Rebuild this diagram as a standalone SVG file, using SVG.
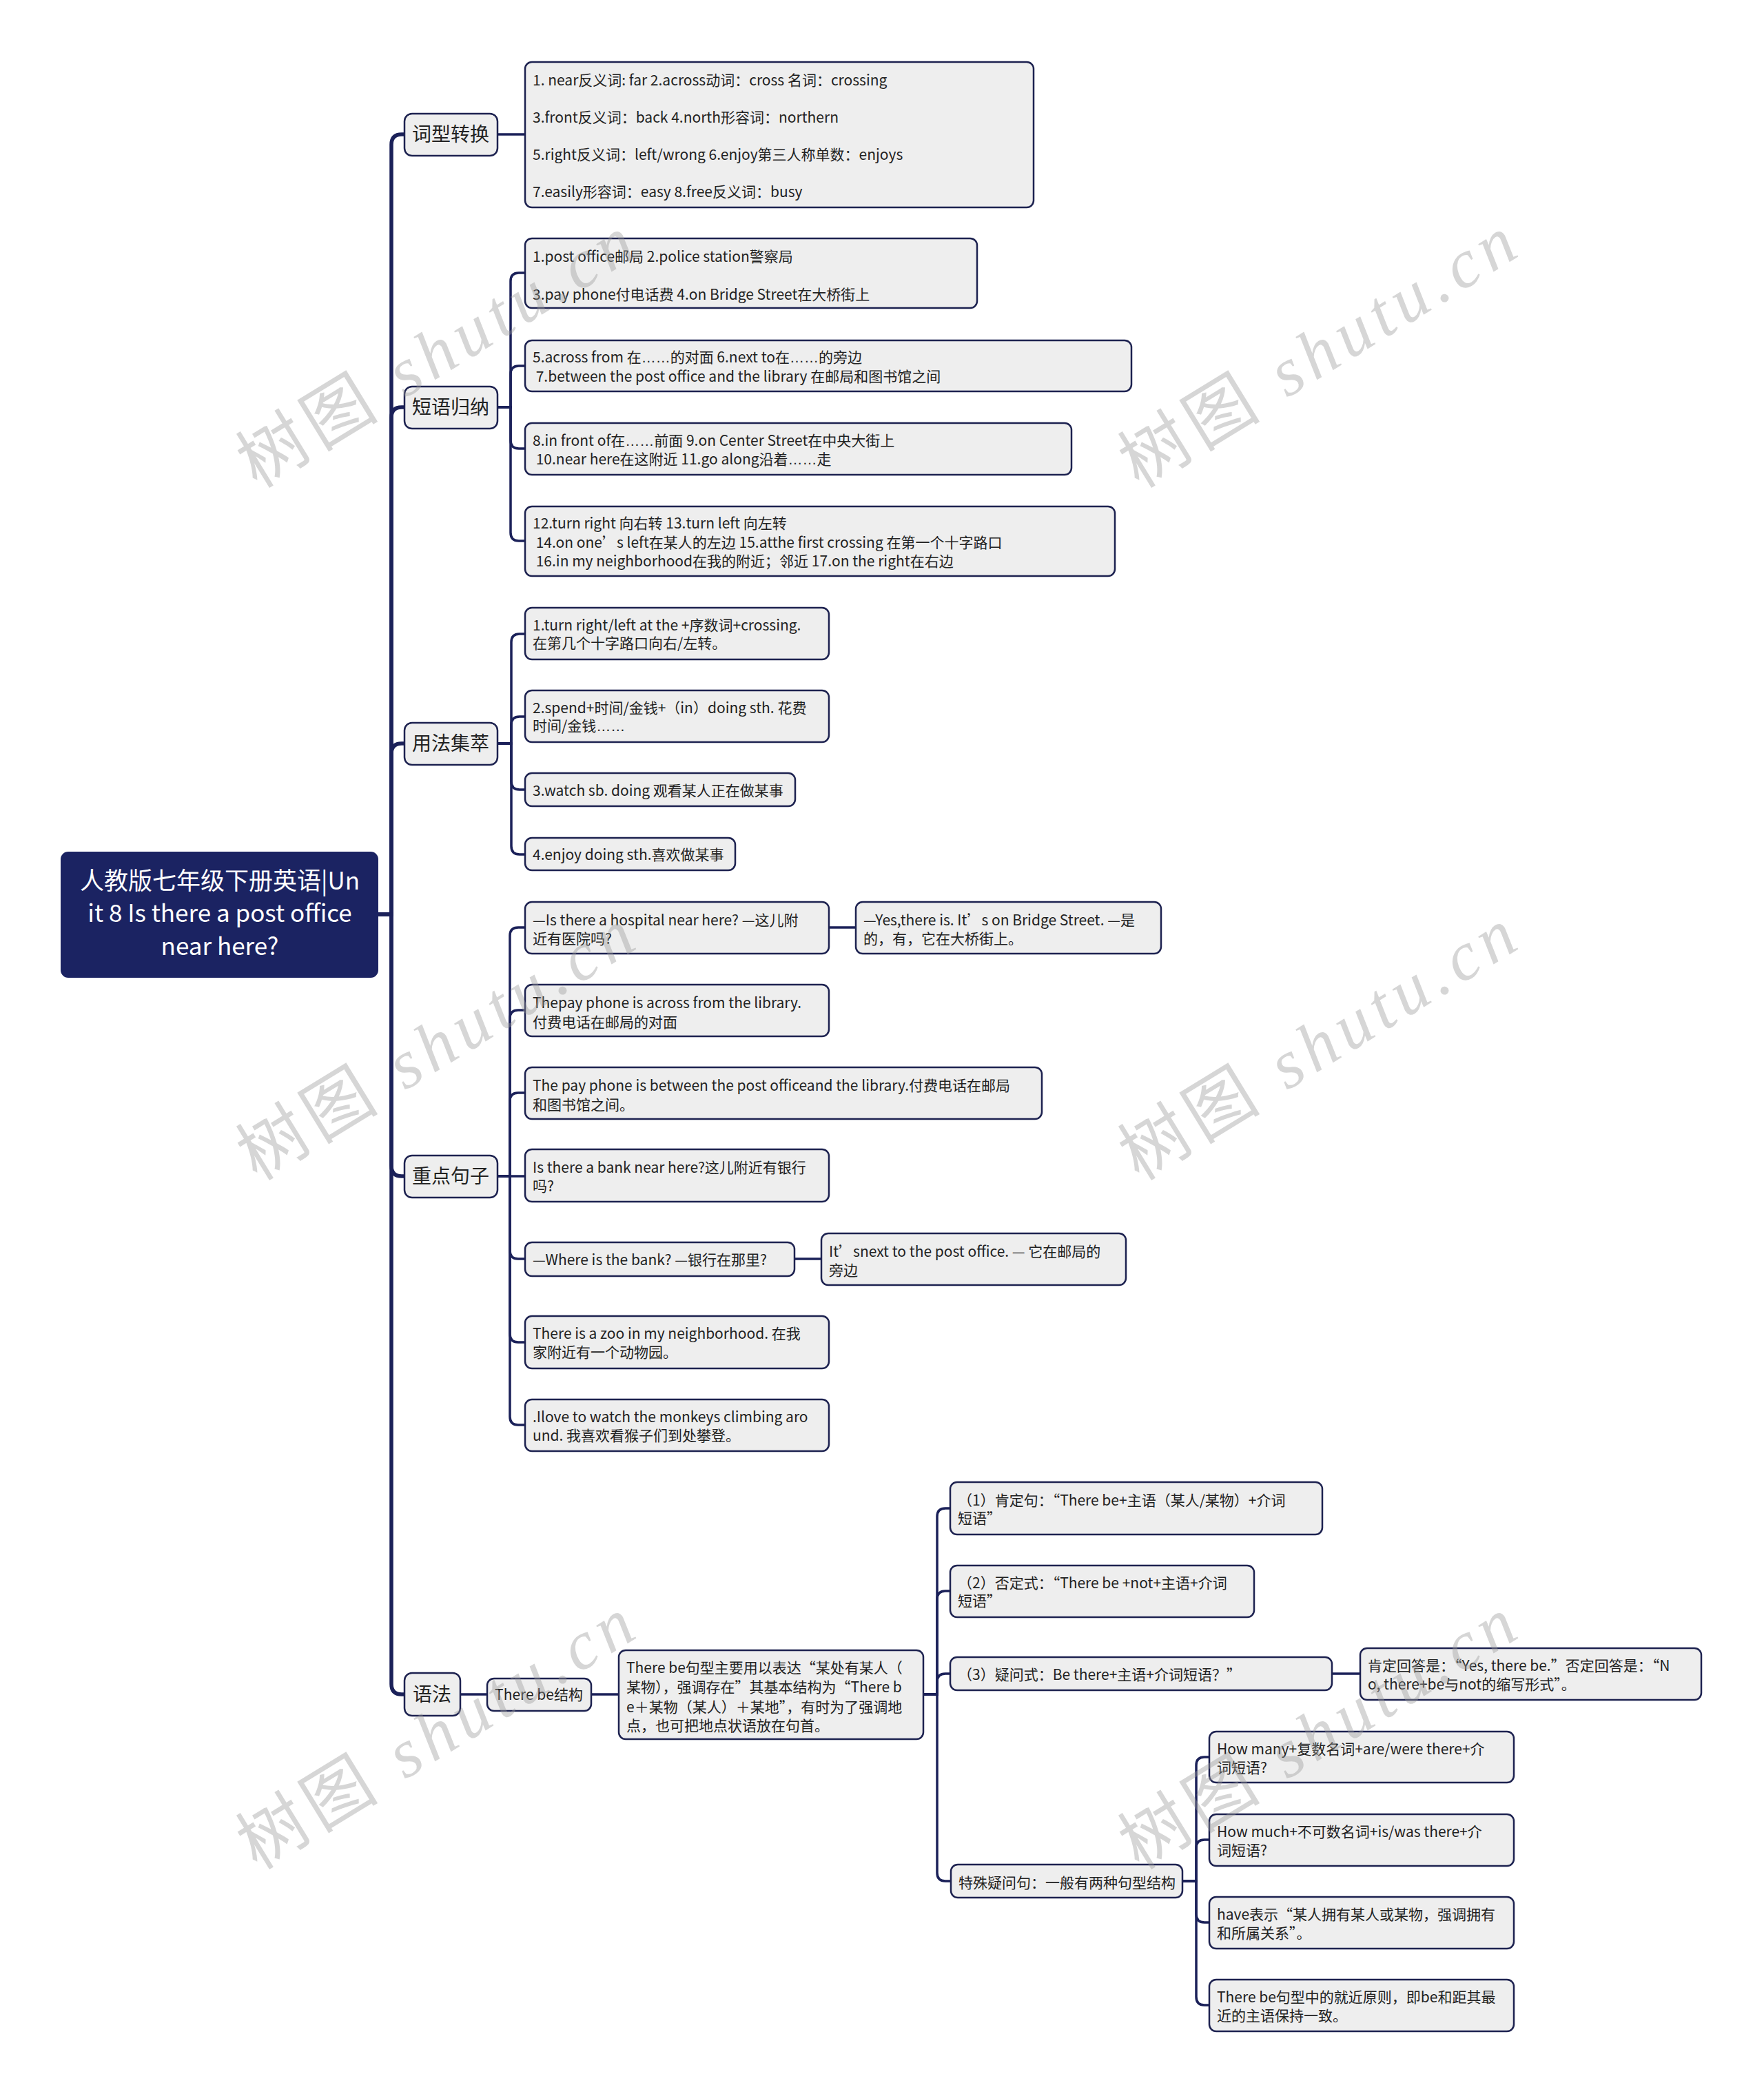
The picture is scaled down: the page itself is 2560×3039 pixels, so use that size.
<svg xmlns="http://www.w3.org/2000/svg" width="2560" height="3039" viewBox="0 0 2560 3039">
<style>
.bg{fill:#ffffff}
.n{fill:#eeeeee;stroke:#1d2250;stroke-width:2.5}
.r{fill:#1b2362;stroke:#1b2362;stroke-width:2}
.t{font-family:"Noto Sans CJK SC","Noto Sans",sans-serif;font-size:21px;fill:#222222}
.l1{font-size:28px}
.rt{font-family:"Noto Sans CJK SC","Noto Sans",sans-serif;font-size:35px;fill:#ffffff;text-anchor:middle}
.m{text-anchor:middle}
.e{font-family:"Liberation Sans",sans-serif}
.c{fill:none;stroke:#1b2159;stroke-width:3.5}
.k{fill:none;stroke:#1b2159;stroke-width:5.5}
.wm{font-family:"Liberation Serif","Noto Sans CJK SC",serif;font-size:100px;fill:#9a9a9a;opacity:0.4;text-anchor:middle}
</style>
<rect class="bg" x="0" y="0" width="2560" height="3039"/>
<g id="connectors">
<path class="k" d="M548 1327 H568 V210 Q568 195 583 195 H587"/>
<path class="k" d="M548 1327 H568 V606 Q568 591 583 591 H587"/>
<path class="k" d="M548 1327 H568 V1094 Q568 1079 583 1079 H587"/>
<path class="k" d="M548 1327 H568 V1692 Q568 1707 583 1707 H587"/>
<path class="k" d="M548 1327 H568 V2444 Q568 2459 583 2459 H587"/>
<path class="c" d="M722 195 H762"/>
<path class="c" d="M722 591 H741 V408 Q741 396 753 396 H762"/>
<path class="c" d="M722 591 H741 V543 Q741 531 753 531 H762"/>
<path class="c" d="M722 591 H741 V639 Q741 651 753 651 H762"/>
<path class="c" d="M722 591 H741 V773 Q741 785 753 785 H762"/>
<path class="c" d="M722 1079 H742 V932 Q742 920 754 920 H762"/>
<path class="c" d="M722 1079 H742 V1052 Q742 1040 754 1040 H762"/>
<path class="c" d="M722 1079 H742 V1134 Q742 1146 754 1146 H762"/>
<path class="c" d="M722 1079 H742 V1228 Q742 1240 754 1240 H762"/>
<path class="c" d="M722 1707 H740 V1358 Q740 1346 752 1346 H762"/>
<path class="c" d="M722 1707 H740 V1478 Q740 1466 752 1466 H762"/>
<path class="c" d="M722 1707 H740 V1598 Q740 1586 752 1586 H762"/>
<path class="c" d="M722 1707 H762"/>
<path class="c" d="M722 1707 H740 V1815 Q740 1827 752 1827 H762"/>
<path class="c" d="M722 1707 H740 V1936 Q740 1948 752 1948 H762"/>
<path class="c" d="M722 1707 H740 V2056 Q740 2068 752 2068 H762"/>
<path class="c" d="M1203 1346 H1242"/>
<path class="c" d="M1153 1827 H1192"/>
<path class="c" d="M668 2459 H707"/>
<path class="c" d="M858 2459 H898"/>
<path class="c" d="M1340 2459 H1360 V2201 Q1360 2189 1372 2189 H1379"/>
<path class="c" d="M1340 2459 H1360 V2321 Q1360 2309 1372 2309 H1379"/>
<path class="c" d="M1340 2459 H1360 V2441 Q1360 2429 1372 2429 H1379"/>
<path class="c" d="M1340 2459 H1360 V2718 Q1360 2730 1372 2730 H1380"/>
<path class="c" d="M1933 2429 H1974"/>
<path class="c" d="M1716 2730 H1736 V2562 Q1736 2550 1748 2550 H1755"/>
<path class="c" d="M1716 2730 H1736 V2682 Q1736 2670 1748 2670 H1755"/>
<path class="c" d="M1716 2730 H1736 V2778 Q1736 2790 1748 2790 H1755"/>
<path class="c" d="M1716 2730 H1736 V2898 Q1736 2910 1748 2910 H1755"/>
</g>
<g id="root">
<rect class="r" x="89" y="1237" width="459" height="181" rx="10"/>
<text class="rt" x="319" y="1291">人教版七年级下册英语|Un</text>
<text class="rt" x="319" y="1338">it 8 Is there a post office</text>
<text class="rt" x="319" y="1386">near here?</text>
</g>
<g id="k1"><rect class="n" x="587" y="165" width="135" height="61" rx="11"/><text class="t l1 m" x="654" y="205">词型转换</text></g>
<g id="k2"><rect class="n" x="587" y="561" width="135" height="61" rx="11"/><text class="t l1 m" x="654" y="601">短语归纳</text></g>
<g id="k3"><rect class="n" x="587" y="1049" width="135" height="61" rx="11"/><text class="t l1 m" x="654" y="1089">用法集萃</text></g>
<g id="k4"><rect class="n" x="587" y="1677" width="135" height="61" rx="11"/><text class="t l1 m" x="654" y="1717">重点句子</text></g>
<g id="k5"><rect class="n" x="587" y="2428" width="81" height="62" rx="11"/><text class="t l1 m" x="627" y="2469">语法</text></g>
<g id="a1"><rect class="n" x="762" y="90" width="738" height="211" rx="10"/>
<text class="t" x="773" y="124">1. near反义词: far 2.across动词：cross 名词：crossing</text>
<text class="t" x="773" y="178">3.front反义词：back 4.north形容词：northern</text>
<text class="t" x="773" y="232">5.right反义词：left/wrong 6.enjoy第三人称单数：enjoys</text>
<text class="t" x="773" y="286">7.easily形容词：easy 8.free反义词：busy</text></g>
<g id="b1"><rect class="n" x="762" y="346" width="656" height="101" rx="10"/>
<text class="t" x="773" y="380">1.post office邮局 2.police station警察局</text>
<text class="t" x="773" y="435">3.pay phone付电话费 4.on Bridge Street在大桥街上</text></g>
<g id="b2"><rect class="n" x="762" y="494" width="880" height="74" rx="10"/>
<text class="t" x="773" y="526">5.across from 在<tspan class="e">……</tspan>的对面 6.next to在<tspan class="e">……</tspan>的旁边</text>
<text class="t" x="773" y="554" xml:space="preserve"> 7.between the post office and the library 在邮局和图书馆之间</text></g>
<g id="b3"><rect class="n" x="762" y="614" width="793" height="75" rx="10"/>
<text class="t" x="773" y="647">8.in front of在<tspan class="e">……</tspan>前面 9.on Center Street在中央大街上</text>
<text class="t" x="773" y="674" xml:space="preserve"> 10.near here在这附近 11.go along沿着<tspan class="e">……</tspan>走</text></g>
<g id="b4"><rect class="n" x="762" y="735" width="856" height="101" rx="10"/>
<text class="t" x="773" y="767">12.turn right 向右转 13.turn left 向左转</text>
<text class="t" x="773" y="795" xml:space="preserve"> 14.on one’s left在某人的左边 15.atthe first crossing 在第一个十字路口</text>
<text class="t" x="773" y="822" xml:space="preserve"> 16.in my neighborhood在我的附近；邻近 17.on the right在右边</text></g>
<g id="c1"><rect class="n" x="762" y="882" width="441" height="75" rx="10"/>
<text class="t" x="773" y="915">1.turn right/left at the +序数词+crossing.</text>
<text class="t" x="773" y="941">在第几个十字路口向右/左转。</text></g>
<g id="c2"><rect class="n" x="762" y="1002" width="441" height="75" rx="10"/>
<text class="t" x="773" y="1035">2.spend+时间/金钱+（in）doing sth. 花费</text>
<text class="t" x="773" y="1061">时间/金钱<tspan class="e">……</tspan></text></g>
<g id="c3"><rect class="n" x="762" y="1122" width="392" height="48" rx="10"/>
<text class="t" x="773" y="1155">3.watch sb. doing 观看某人正在做某事</text></g>
<g id="c4"><rect class="n" x="762" y="1216" width="305" height="47" rx="10"/>
<text class="t" x="773" y="1248">4.enjoy doing sth.喜欢做某事</text></g>
<g id="d1"><rect class="n" x="762" y="1309" width="441" height="75" rx="10"/>
<text class="t" x="773" y="1343">—Is there a hospital near here? —这儿附</text>
<text class="t" x="773" y="1370">近有医院吗?</text></g>
<g id="d1b"><rect class="n" x="1242" y="1309" width="443" height="75" rx="10"/>
<text class="t" x="1253" y="1343">—Yes,there is. It’s on Bridge Street. —是</text>
<text class="t" x="1253" y="1370">的，有，它在大桥街上。</text></g>
<g id="d2"><rect class="n" x="762" y="1429" width="441" height="75" rx="10"/>
<text class="t" x="773" y="1463">Thepay phone is across from the library.</text>
<text class="t" x="773" y="1491">付费电话在邮局的对面</text></g>
<g id="d3"><rect class="n" x="762" y="1549" width="750" height="75" rx="10"/>
<text class="t" x="773" y="1583">The pay phone is between the post officeand the library.付费电话在邮局</text>
<text class="t" x="773" y="1611">和图书馆之间。</text></g>
<g id="d4"><rect class="n" x="762" y="1668" width="441" height="76" rx="10"/>
<text class="t" x="773" y="1702">Is there a bank near here?这儿附近有银行</text>
<text class="t" x="773" y="1729">吗?</text></g>
<g id="d5"><rect class="n" x="762" y="1803" width="391" height="49" rx="10"/>
<text class="t" x="773" y="1836">—Where is the bank? —银行在那里?</text></g>
<g id="d5b"><rect class="n" x="1192" y="1790" width="442" height="75" rx="10"/>
<text class="t" x="1203" y="1824">It’snext to the post office. — 它在邮局的</text>
<text class="t" x="1203" y="1851">旁边</text></g>
<g id="d6"><rect class="n" x="762" y="1910" width="441" height="76" rx="10"/>
<text class="t" x="773" y="1943">There is a zoo in my neighborhood. 在我</text>
<text class="t" x="773" y="1970">家附近有一个动物园。</text></g>
<g id="d7"><rect class="n" x="762" y="2031" width="441" height="75" rx="10"/>
<text class="t" x="773" y="2064">.Ilove to watch the monkeys climbing aro</text>
<text class="t" x="773" y="2091">und. 我喜欢看猴子们到处攀登。</text></g>
<g id="e1"><rect class="n" x="707" y="2436" width="151" height="47" rx="10"/>
<text class="t m" x="782" y="2467">There be结构</text></g>
<g id="e2"><rect class="n" x="898" y="2395" width="442" height="129" rx="10"/>
<text class="t" x="909" y="2428">There be句型主要用以表达“某处有某人（</text>
<text class="t" x="909" y="2456">某物），强调存在”其基本结构为“There b</text>
<text class="t" x="909" y="2485">e＋某物（某人）＋某地”，有时为了强调地</text>
<text class="t" x="909" y="2512">点，也可把地点状语放在句首。</text></g>
<g id="f1"><rect class="n" x="1379" y="2151" width="540" height="76" rx="10"/>
<text class="t" x="1390" y="2185">（1）肯定句：“There be+主语（某人/某物）+介词</text>
<text class="t" x="1390" y="2211">短语”</text></g>
<g id="f2"><rect class="n" x="1379" y="2272" width="441" height="75" rx="10"/>
<text class="t" x="1390" y="2305">（2）否定式：“There be +not+主语+介词</text>
<text class="t" x="1390" y="2331">短语”</text></g>
<g id="f3"><rect class="n" x="1379" y="2405" width="554" height="48" rx="10"/>
<text class="t" x="1390" y="2438">（3）疑问式：Be there+主语+介词短语？”</text></g>
<g id="f3b"><rect class="n" x="1974" y="2392" width="495" height="75" rx="10"/>
<text class="t" x="1985" y="2425">肯定回答是：“Yes, there be.”否定回答是：“N</text>
<text class="t" x="1985" y="2452">o, there+be与not的缩写形式”。</text></g>
<g id="f4"><rect class="n" x="1380" y="2706" width="336" height="48" rx="10"/>
<text class="t" x="1391" y="2740">特殊疑问句：一般有两种句型结构</text></g>
<g id="g1"><rect class="n" x="1755" y="2513" width="442" height="74" rx="10"/>
<text class="t" x="1766" y="2546">How many+复数名词+are/were there+介</text>
<text class="t" x="1766" y="2573">词短语?</text></g>
<g id="g2"><rect class="n" x="1755" y="2633" width="442" height="75" rx="10"/>
<text class="t" x="1766" y="2666">How much+不可数名词+is/was there+介</text>
<text class="t" x="1766" y="2693">词短语?</text></g>
<g id="g3"><rect class="n" x="1755" y="2753" width="442" height="75" rx="10"/>
<text class="t" x="1766" y="2786">have表示“某人拥有某人或某物，强调拥有</text>
<text class="t" x="1766" y="2813">和所属关系”。</text></g>
<g id="g4"><rect class="n" x="1755" y="2873" width="442" height="75" rx="10"/>
<text class="t" x="1766" y="2906">There be句型中的就近原则，即be和距其最</text>
<text class="t" x="1766" y="2933">近的主语保持一致。</text></g>
<g id="watermarks">
<text class="wm" transform="translate(650 540) rotate(-31.5)" textLength="650" lengthAdjust="spacing">树图 <tspan font-style="italic">shutu.cn</tspan></text>
<text class="wm" transform="translate(1930 540) rotate(-31.5)" textLength="650" lengthAdjust="spacing">树图 <tspan font-style="italic">shutu.cn</tspan></text>
<text class="wm" transform="translate(650 1545) rotate(-31.5)" textLength="650" lengthAdjust="spacing">树图 <tspan font-style="italic">shutu.cn</tspan></text>
<text class="wm" transform="translate(1930 1545) rotate(-31.5)" textLength="650" lengthAdjust="spacing">树图 <tspan font-style="italic">shutu.cn</tspan></text>
<text class="wm" transform="translate(650 2545) rotate(-31.5)" textLength="650" lengthAdjust="spacing">树图 <tspan font-style="italic">shutu.cn</tspan></text>
<text class="wm" transform="translate(1930 2545) rotate(-31.5)" textLength="650" lengthAdjust="spacing">树图 <tspan font-style="italic">shutu.cn</tspan></text>
</g>
</svg>
